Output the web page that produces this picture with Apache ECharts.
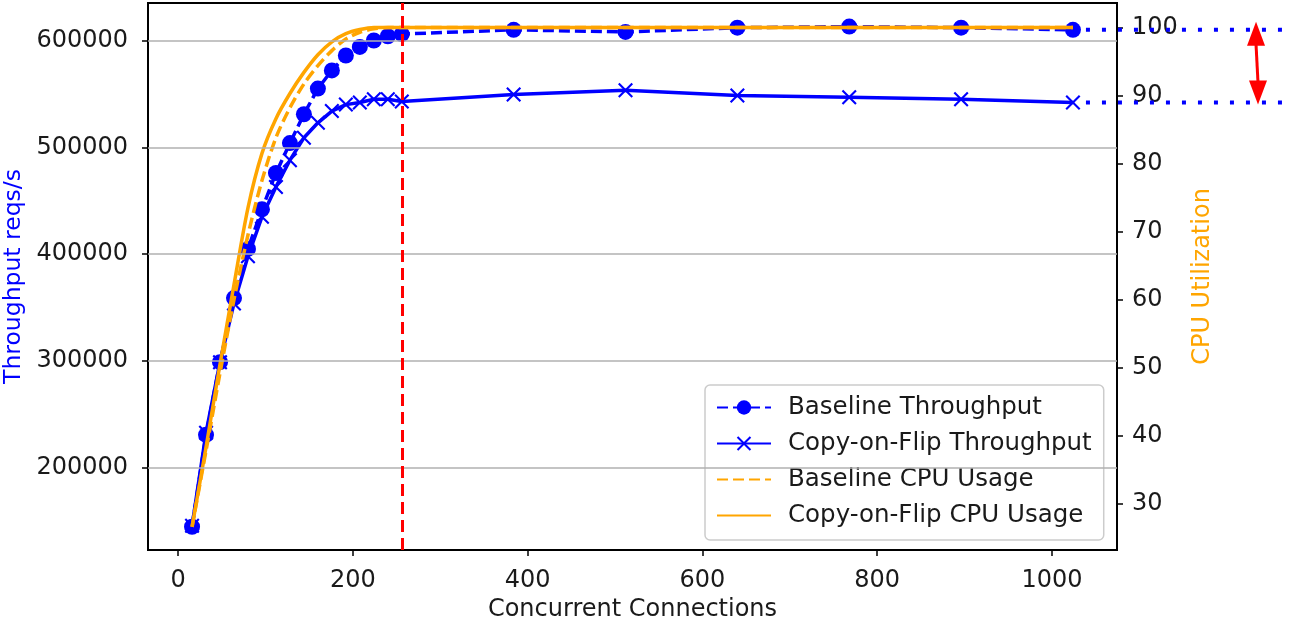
<!DOCTYPE html>
<html>
<head>
<meta charset="utf-8">
<script src="https://cdn.jsdelivr.net/npm/echarts@6/dist/echarts.min.js"></script>
<style>
  html, body { margin: 0; padding: 0; background: #fff; }
  #chart { width: 1292px; height: 628px; }
</style>
</head>
<body>
<div id="chart"></div>
<script>
// concurrent connections (x)
const connections = [16, 32, 48, 64, 80, 96, 112, 128, 144, 160, 176, 192, 208, 224, 240, 256, 384, 512, 640, 768, 896, 1024];

// throughput, reqs/s (left axis)
const baselineThroughput = [145000, 231000, 299000, 359000, 405000, 442000, 476000, 504000, 531000, 555000, 572000,
  586000, 594000, 600000, 604000, 606000, 610000, 608000, 612000, 613000, 612000, 610000];
const cofThroughput = [146000, 233000, 299000, 354000, 398000, 435000, 463000, 488000, 509000, 523000, 534000,
  540000, 542000, 545000, 545000, 543000, 549500, 553500, 548500, 547000, 545000, 542000];

// CPU utilization, % (right axis)
const baselineCpu = [26.6, 37.8, 49.2, 60.0, 69.5, 77.5, 83.8, 88.2, 91.7, 94.4, 96.6,
  98.3, 99.3, 99.8, 100, 100, 100, 100, 100, 100, 100, 100];
const cofCpu = [26.6, 38.3, 50.5, 62.2, 73.5, 81.5, 86.6, 90.3, 93.4, 96.0, 97.9,
  99.1, 99.7, 100, 100, 100, 100, 100, 100, 100, 100, 100];

// tick labels
const xTicks = [0, 200, 400, 600, 800, 1000];
const leftTicks = [200000, 300000, 400000, 500000, 600000];
const rightTicks = [30, 40, 50, 60, 70, 80, 90, 100];

const saturation = 256; // red dashed marker

const BLUE = '#0000ff';
const ORANGE = '#ffa500';
const RED = '#ff0000';
const INK = '#1a1a1a';
const FONT = 'DejaVu Sans';
const crossSymbol = 'path://M0,10 L10,0 L50,40 L90,0 L100,10 L60,50 L100,90 L90,100 L50,60 L10,100 L0,90 L40,50 Z';

const pairs = (ys) => connections.map((c, i) => [c, ys[i]]);
const plain = (v) => String(v);
const tick = { show: true, length: 6, lineStyle: { color: '#000', width: 1.5 } };

const chart = echarts.init(document.getElementById('chart'));

chart.setOption({
  animation: false,
  textStyle: { fontFamily: FONT },
  grid: {
    left: 148, right: 175, top: 3, bottom: 78,
    containLabel: false,
    outerBoundsMode: 'none',
    show: true, borderColor: '#000', borderWidth: 2, backgroundColor: 'transparent'
  },
  legend: {
    data: [
      { name: 'Baseline Throughput' },
      { name: 'Copy-on-Flip Throughput' },
      { name: 'Baseline CPU Usage', itemStyle: { opacity: 0 } },
      { name: 'Copy-on-Flip CPU Usage', itemStyle: { opacity: 0 } }
    ],
    orient: 'vertical',
    left: 705, top: 385,
    padding: [10, 12, 12, 11],
    itemGap: 11,
    itemWidth: 54,
    itemHeight: 18,
    borderColor: '#cccccc',
    borderWidth: 1.5,
    borderRadius: 5,
    backgroundColor: 'rgba(255,255,255,0.8)',
    textStyle: { fontFamily: FONT, fontSize: 24.5, color: INK, padding: [0, 0, 0, 12] }
  },
  xAxis: {
    type: 'value',
    min: -34.4, max: 1074.4,
    name: 'Concurrent Connections',
    nameLocation: 'middle',
    nameGap: 47,
    nameTextStyle: { fontFamily: FONT, fontSize: 24, color: INK },
    axisLine: { show: false, onZero: false },
    axisTick: { ...tick, customValues: xTicks },
    axisLabel: { fontSize: 24, color: INK, margin: 19, customValues: xTicks, formatter: plain },
    splitLine: { show: false }
  },
  yAxis: [{
    type: 'value',
    position: 'left',
    min: 123220, max: 635100,
    name: 'Throughput reqs/s',
    nameLocation: 'middle',
    nameRotate: 90,
    nameGap: 122,
    nameTextStyle: { fontFamily: FONT, fontSize: 23.5, color: BLUE },
    axisLine: { show: false, onZero: false },
    axisTick: { ...tick, customValues: leftTicks },
    axisLabel: { fontSize: 24, color: INK, margin: 20, customValues: leftTicks, formatter: plain },
    splitLine: { show: false }
  }, {
    type: 'value',
    position: 'right',
    min: 23.2, max: 103.6,
    name: 'CPU Utilization',
    nameLocation: 'middle',
    nameRotate: 90,
    nameGap: 74,
    nameTextStyle: { fontFamily: FONT, fontSize: 24, color: ORANGE },
    axisLine: { show: false, onZero: false },
    axisTick: { ...tick, customValues: rightTicks },
    axisLabel: { fontSize: 24, color: INK, margin: 15, customValues: rightTicks, formatter: plain },
    splitLine: { show: false }
  }],
  series: [
    {
      // horizontal grid lines at the left-axis ticks
      name: 'grid',
      type: 'line',
      data: [],
      yAxisIndex: 0,
      z: 0,
      silent: true,
      markLine: {
        silent: true,
        symbol: 'none',
        label: { show: false },
        lineStyle: { color: '#b0b0b0', width: 1.5, type: 'solid' },
        data: leftTicks.map(v => ({ yAxis: v }))
      }
    },
    {
      name: 'Baseline Throughput',
      type: 'line',
      yAxisIndex: 0,
      data: pairs(baselineThroughput),
      symbol: 'circle',
      symbolSize: 16,
      itemStyle: { color: BLUE },
      lineStyle: { color: BLUE, width: 3.5, type: [11, 5] },
      z: 3
    },
    {
      name: 'Copy-on-Flip Throughput',
      type: 'line',
      yAxisIndex: 0,
      data: pairs(cofThroughput),
      symbol: crossSymbol,
      symbolSize: 15,
      itemStyle: { color: BLUE },
      lineStyle: { color: BLUE, width: 3.5 },
      z: 3,
      markLine: {
        silent: true,
        symbol: 'none',
        label: { show: false },
        lineStyle: { color: RED, width: 3, type: [12, 6] },
        data: [{ xAxis: saturation }]
      }
    },
    {
      name: 'Baseline CPU Usage',
      type: 'line',
      yAxisIndex: 1,
      data: pairs(baselineCpu),
      symbol: 'none',
      smooth: 0.3,
      itemStyle: { color: ORANGE },
      lineStyle: { color: ORANGE, width: 3.5, type: [11, 5] },
      z: 4
    },
    {
      name: 'Copy-on-Flip CPU Usage',
      type: 'line',
      yAxisIndex: 1,
      data: pairs(cofCpu),
      symbol: 'none',
      smooth: 0.3,
      itemStyle: { color: ORANGE },
      lineStyle: { color: ORANGE, width: 3.5 },
      z: 4
    }
  ]
});

// dotted guides from the last throughput points, plus the red gap arrow
const last = connections.length - 1;
const xEnd = chart.convertToPixel({ xAxisIndex: 0 }, connections[last]);
const yBase = chart.convertToPixel({ yAxisIndex: 0 }, baselineThroughput[last]);
const yCof = chart.convertToPixel({ yAxisIndex: 0 }, cofThroughput[last]);
const arrowX = 1257;
const topTip = yBase - 8;
const botTip = yCof + 2;
const headH = 24, headW = 9;

chart.setOption({
  graphic: [
    { type: 'line', z: 100, shape: { x1: xEnd + 13, y1: yBase, x2: 1292, y2: yBase },
      style: { stroke: BLUE, lineWidth: 4, lineDash: [4, 12] } },
    { type: 'line', z: 100, shape: { x1: xEnd + 13, y1: yCof, x2: 1292, y2: yCof },
      style: { stroke: BLUE, lineWidth: 4, lineDash: [4, 12] } },
    { type: 'line', z: 101, shape: { x1: arrowX - 1, y1: topTip + headH - 2, x2: arrowX + 1, y2: botTip - headH + 2 },
      style: { stroke: RED, lineWidth: 3 } },
    { type: 'polygon', z: 101, shape: { points: [[arrowX - 1, topTip], [arrowX - 1 - headW, topTip + headH], [arrowX - 1 + headW, topTip + headH]] },
      style: { fill: RED } },
    { type: 'polygon', z: 101, shape: { points: [[arrowX + 1, botTip], [arrowX + 1 - headW, botTip - headH], [arrowX + 1 + headW, botTip - headH]] },
      style: { fill: RED } }
  ]
});
</script>
</body>
</html>
